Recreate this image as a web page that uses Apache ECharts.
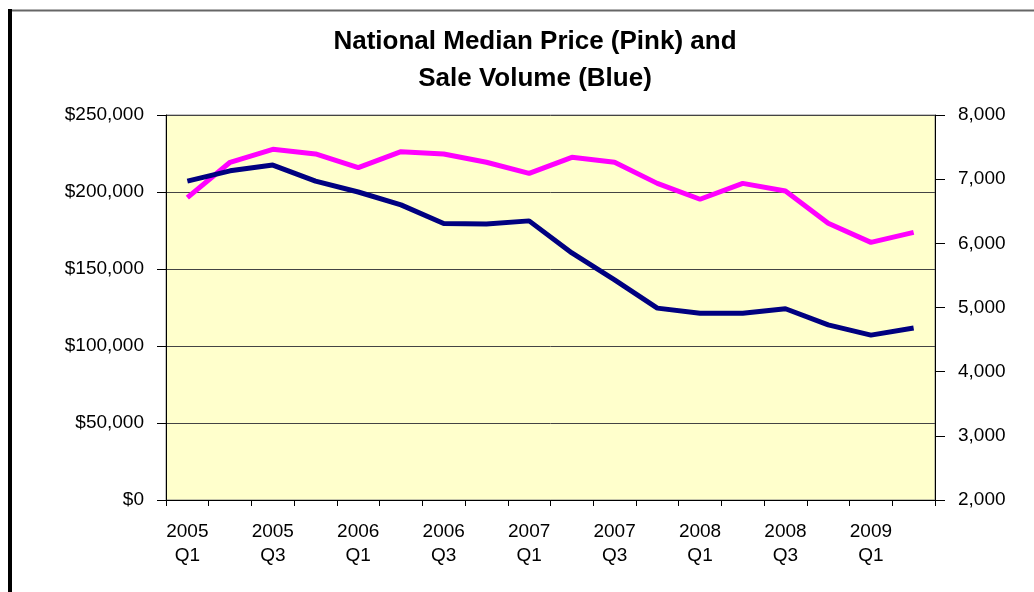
<!DOCTYPE html>
<html>
<head>
<meta charset="utf-8">
<script src="https://cdn.jsdelivr.net/npm/echarts@6/dist/echarts.min.js"></script>
<style>
  html, body { margin: 0; padding: 0; background: #fff; }
  #chart { width: 1034px; height: 592px; }
</style>
</head>
<body>
<div id="chart"></div>
<script>
// quarters 2005 Q1 .. 2009 Q2
var quarters = [
    '2005\nQ1', '2005\nQ2', '2005\nQ3', '2005\nQ4',
    '2006\nQ1', '2006\nQ2', '2006\nQ3', '2006\nQ4',
    '2007\nQ1', '2007\nQ2', '2007\nQ3', '2007\nQ4',
    '2008\nQ1', '2008\nQ2', '2008\nQ3', '2008\nQ4',
    '2009\nQ1', '2009\nQ2'
];

// median price, left axis (pink)
var medianPrice = [196300, 219300, 227700, 224700, 215800, 226200, 224700, 219300, 212100,
    222500, 219300, 205600, 195300, 205600, 200600, 179700, 167300, 173800];

// sale volume, right axis (blue)
var saleVolume = [6970, 7130, 7220, 6970, 6800, 6600, 6310, 6300, 6350,
    5850, 5430, 4990, 4910, 4910, 4980, 4730, 4570, 4680];

var priceTicks = { min: 0, max: 250000, step: 50000 };
var volumeTicks = { min: 2000, max: 8000, step: 1000 };

var font = '"Liberation Sans", Arial, sans-serif';

echarts.init(document.querySelector('#chart')).setOption({
    animation: false,
    backgroundColor: '#ffffff',
    graphic: [
        // frame of the chart box
        { type: 'line', shape: { x1: 10, y1: 10.5, x2: 1034, y2: 10.5 }, style: { stroke: '#666', lineWidth: 2 } },
        { type: 'line', shape: { x1: 10, y1: 9, x2: 10, y2: 592 }, style: { stroke: '#000', lineWidth: 4 } },
        {
            type: 'text',
            x: 535,
            y: 23,
            style: {
                text: 'National Median Price (Pink) and\nSale Volume (Blue)',
                textAlign: 'center',
                fill: '#000',
                font: 'bold 26px ' + font,
                lineHeight: 37
            }
        }
    ],
    grid: {
        left: 166,
        right: 99,
        top: 115,
        bottom: 92,
        show: true,
        backgroundColor: '#FFFFCC',
        borderColor: '#888',
        borderWidth: 1
    },
    xAxis: {
        type: 'category',
        data: quarters,
        boundaryGap: true,
        axisLine: { lineStyle: { color: '#000', width: 1 } },
        axisTick: { show: true, interval: 0, length: 6, lineStyle: { color: '#000' } },
        axisLabel: {
            interval: 1,
            margin: 20,
            color: '#000',
            fontFamily: font,
            fontSize: 19,
            lineHeight: 24
        },
        splitLine: { show: false }
    },
    yAxis: [
        {
            type: 'value',
            min: priceTicks.min,
            max: priceTicks.max,
            interval: priceTicks.step,
            axisLine: { show: true, lineStyle: { color: '#000', width: 1 } },
            axisTick: { show: true, length: 9, lineStyle: { color: '#000' } },
            axisLabel: {
                margin: 22,
                color: '#000',
                fontFamily: font,
                fontSize: 19,
                formatter: function (v) { return '$' + v.toLocaleString('en-US'); }
            },
            splitLine: { show: true, lineStyle: { color: '#444', width: 1 } }
        },
        {
            type: 'value',
            min: volumeTicks.min,
            max: volumeTicks.max,
            interval: volumeTicks.step,
            position: 'right',
            axisLine: { show: true, lineStyle: { color: '#000', width: 1 } },
            axisTick: { show: true, length: 10, lineStyle: { color: '#000' } },
            axisLabel: {
                margin: 23,
                color: '#000',
                fontFamily: font,
                fontSize: 19,
                formatter: function (v) { return v.toLocaleString('en-US'); }
            },
            splitLine: { show: false }
        }
    ],
    series: [
        {
            name: 'Median Price',
            type: 'line',
            yAxisIndex: 0,
            data: medianPrice,
            symbol: 'none',
            lineStyle: { color: '#FF00FF', width: 5 },
            itemStyle: { color: '#FF00FF' }
        },
        {
            name: 'Sale Volume',
            type: 'line',
            yAxisIndex: 1,
            data: saleVolume,
            symbol: 'none',
            lineStyle: { color: '#000080', width: 5 },
            itemStyle: { color: '#000080' }
        }
    ]
});
</script>
</body>
</html>
